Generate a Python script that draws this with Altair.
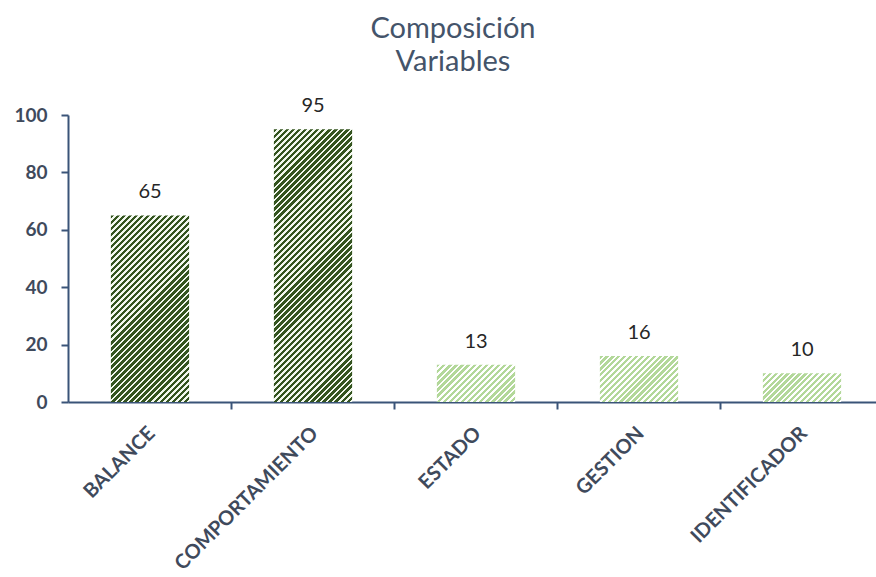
import altair as alt
import pandas as pd

# ---- data ----
categories = ["BALANCE", "COMPORTAMIENTO", "ESTADO", "GESTION", "IDENTIFICADOR"]
values = [65, 95, 13, 16, 10]
shade = ["dark", "dark", "light", "light", "light"]
y_ticks = [0, 20, 40, 60, 80, 100]

df = pd.DataFrame({"cat": categories, "val": values, "shade": shade})

# ---- layout ----
LEFT, TOP = 68, 115
W, H = 808, 287
STEP = 163.0
P_IN = 0.52
BW = STEP * (1 - P_IN)
P_OUT = (W / STEP - len(categories) + P_IN) / 2
FIRST_BAR_START = 150 - BW / 2
ALIGN = (FIRST_BAR_START - LEFT) / (W - STEP * (len(categories) - P_IN))

STRIPE = {"dark": "#34541f", "light": "#b3d89a"}
GAP = {"dark": "#f2f8ee", "light": "#ffffff"}
PERIOD = 6.0
DUTY = 0.55
AXIS_COLOR = "#3a5478"
LABEL_COLOR = "#3f4a5c"
FONT = "Lato"


def hatch(v, color, gap):
    w = BW
    h = v * H / 100.0
    a = (w + h) / (w * w + h * h)
    n = max(1, int(round((w + h) / PERIOD)))
    stops = []
    for k in range(n):
        o0 = k / n
        o1 = (k + DUTY) / n
        o2 = (k + 1) / n
        stops += [
            alt.GradientStop(offset=o0, color=color),
            alt.GradientStop(offset=o1, color=color),
            alt.GradientStop(offset=o1, color=gap),
            alt.GradientStop(offset=o2, color=gap),
        ]
    return alt.LinearGradient(gradient="linear", stops=stops,
                              x1=0, y1=0, x2=a * w, y2=a * h)


xscale = alt.Scale(domain=categories, paddingInner=P_IN, paddingOuter=P_OUT, align=ALIGN)
xaxis = alt.Axis(title=None, labelAngle=-45, labelAlign="right", labelBaseline="middle",
                 labelFont=FONT, labelFontSize=20, labelFontWeight="bold", labelColor=LABEL_COLOR,
                 labelLimit=500,
                 domainColor=AXIS_COLOR, domainWidth=2, tickColor=AXIS_COLOR, tickWidth=2, tickSize=7,
                 bandPosition=(BW / 2 + STEP / 2) / BW, labelOffset=2,
                 labelPadding=21)
yaxis = alt.Axis(title=None, values=y_ticks, grid=False,
                 labelFont=FONT, labelFontSize=19, labelFontWeight="bold", labelColor=LABEL_COLOR,
                 labelPadding=14, domainColor=AXIS_COLOR, domainWidth=2,
                 tickColor=AXIS_COLOR, tickWidth=2, tickSize=7)
yscale = alt.Scale(domain=[0, 100], nice=False)

base = alt.Chart(df).encode(
    x=alt.X("cat:N", scale=xscale, axis=xaxis, sort=categories),
    y=alt.Y("val:Q", scale=yscale, axis=yaxis),
)

layers = []
for c, v, s in zip(categories, values, shade):
    layers.append(
        base.transform_filter(alt.datum.cat == c).mark_bar(fill=hatch(v, STRIPE[s], GAP[s]))
    )

text = base.mark_text(dy=-17, baseline="alphabetic", fontSize=20, font=FONT, color="#262626").encode(
    text="val:Q"
)

chart = alt.layer(*layers, text).properties(
    width=W,
    height=H,
    background="white",
    title=alt.TitleParams(["Composición", "Variables"], font=FONT, fontSize=29, fontWeight="normal",
                          color="#44546a", anchor="middle", frame="group", dx=-19, offset=19,
                          lineHeight=33),
    autosize=alt.AutoSizeParams(type="none"),
    padding={"left": LEFT, "top": TOP, "right": 0, "bottom": 577 - TOP - H},
).configure_view(stroke=None)

chart.save("out.html", embed_options={"renderer": "svg", "actions": False})
